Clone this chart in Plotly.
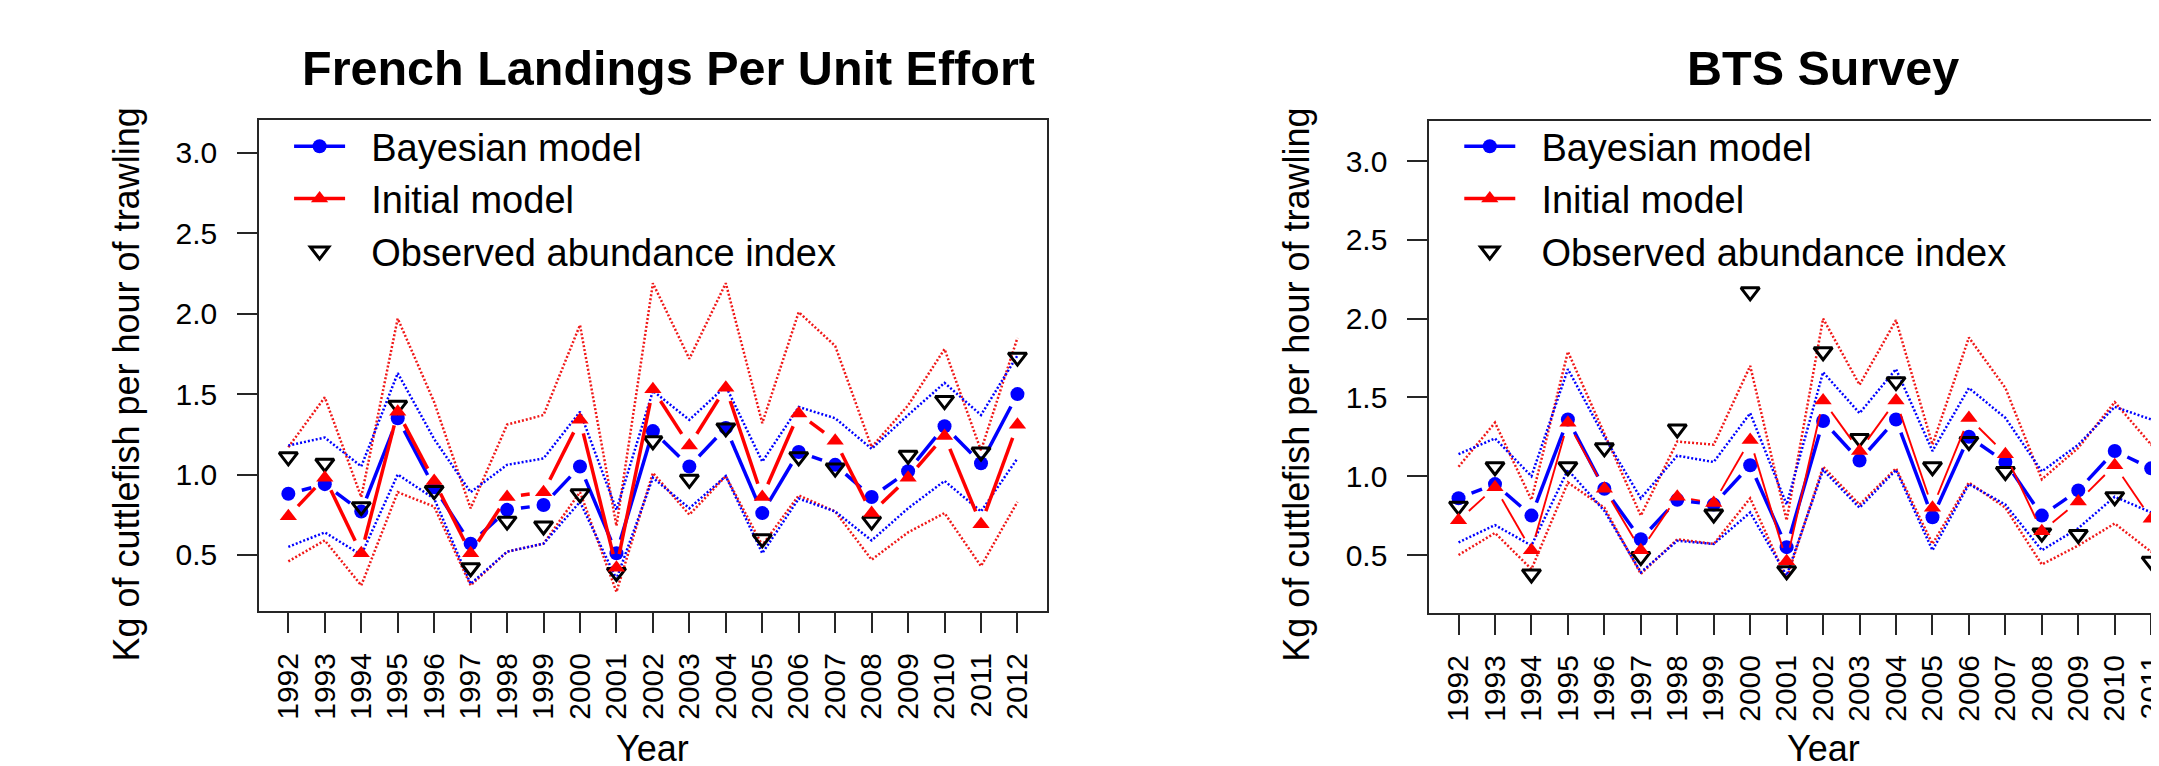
import plotly.graph_objects as go

# ---------------- data ----------------
years = list(range(1992, 2013))
year_labels = [str(y) for y in years]
y_tick_vals = [0.5, 1.0, 1.5, 2.0, 2.5, 3.0]
y_tick_text = ["0.5", "1.0", "1.5", "2.0", "2.5", "3.0"]

# French Landings Per Unit Effort
lpue_bayes = [0.88, 0.94, 0.77, 1.35, 0.92, 0.57, 0.78, 0.81, 1.05, 0.51, 1.27,
              1.05, 1.29, 0.76, 1.14, 1.06, 0.86, 1.02, 1.30, 1.07, 1.50]
lpue_init = [0.74, 0.98, 0.51, 1.39, 0.96, 0.51, 0.86, 0.89, 1.34, 0.42, 1.53,
             1.18, 1.54, 0.86, 1.38, 1.21, 0.76, 0.98, 1.24, 0.69, 1.31]
lpue_obs = [1.11, 1.07, 0.80, 1.43, 0.90, 0.42, 0.71, 0.68, 0.88, 0.39, 1.21,
            0.97, 1.29, 0.60, 1.11, 1.04, 0.71, 1.12, 1.46, 1.14, 1.73]
lpue_bayes_hi = [1.18, 1.23, 1.05, 1.63, 1.22, 0.89, 1.06, 1.10, 1.39, 0.78, 1.52,
                 1.34, 1.55, 1.08, 1.42, 1.35, 1.16, 1.37, 1.57, 1.37, 1.74]
lpue_bayes_lo = [0.55, 0.64, 0.50, 1.00, 0.85, 0.32, 0.52, 0.57, 0.83, 0.35, 0.98,
                 0.79, 0.99, 0.51, 0.85, 0.77, 0.59, 0.79, 0.96, 0.77, 1.10]
lpue_init_hi = [1.17, 1.48, 0.86, 1.97, 1.45, 0.79, 1.31, 1.37, 1.93, 0.68, 2.19,
                1.72, 2.19, 1.32, 2.01, 1.80, 1.17, 1.43, 1.78, 1.15, 1.85]
lpue_init_lo = [0.46, 0.59, 0.31, 0.89, 0.80, 0.31, 0.52, 0.57, 0.89, 0.27, 1.01,
                0.75, 0.99, 0.56, 0.87, 0.77, 0.47, 0.64, 0.76, 0.43, 0.83]

# BTS Survey
bts_bayes = [0.86, 0.95, 0.75, 1.36, 0.92, 0.60, 0.85, 0.82, 1.07, 0.55, 1.35,
             1.10, 1.36, 0.74, 1.25, 1.09, 0.75, 0.91, 1.16, 1.05, 1.45]
bts_init = [0.72, 0.93, 0.53, 1.34, 0.92, 0.53, 0.87, 0.83, 1.23, 0.46, 1.48,
            1.16, 1.48, 0.80, 1.37, 1.14, 0.65, 0.84, 1.07, 0.73, 1.20]
bts_obs = [0.81, 1.06, 0.38, 1.06, 1.18, 0.49, 1.30, 0.76, 2.17, 0.40, 1.79,
           1.24, 1.60, 1.06, 1.22, 1.03, 0.64, 0.63, 0.87, 0.46, 1.70]
bts_bayes_hi = [1.14, 1.24, 1.00, 1.68, 1.25, 0.86, 1.13, 1.09, 1.40, 0.82, 1.66,
                1.40, 1.68, 1.16, 1.56, 1.37, 1.03, 1.20, 1.44, 1.36, 1.75]
bts_bayes_lo = [0.58, 0.69, 0.56, 1.04, 0.78, 0.39, 0.59, 0.57, 0.77, 0.37, 1.04,
                0.80, 1.04, 0.53, 0.95, 0.82, 0.53, 0.67, 0.87, 0.77, 1.10]
bts_init_hi = [1.06, 1.34, 0.85, 1.79, 1.27, 0.75, 1.22, 1.20, 1.70, 0.72, 2.00,
               1.58, 1.99, 1.20, 1.88, 1.56, 0.98, 1.18, 1.47, 1.20, 1.80]
bts_init_lo = [0.50, 0.64, 0.41, 0.96, 0.80, 0.38, 0.60, 0.57, 0.86, 0.35, 1.06,
               0.82, 1.05, 0.57, 0.96, 0.80, 0.44, 0.56, 0.70, 0.52, 0.80]

panel_titles = ["French Landings Per Unit Effort", "BTS Survey"]
y_title = "Kg of cuttlefish per hour of trawling"
x_title = "Year"
legend_names = ["Bayesian model", "Initial model", "Observed abundance index"]

# ---------------- layout geometry ----------------
W, H = 2159, 766
FONT = "Liberation Sans, Arial, Helvetica, sans-serif"
BLUE, RED, BLACK = "#0000FF", "#FF0000", "#000000"
AXC = "#262626"
LEG_PAD = "\u00a0\u00a0"

panels = [
    dict(px0=252, px1=1042, py0=112, py1=603, xr=[1991.2, 2012.8], yr=[0.151, 3.205],
         red_w=3.5, xa="x", ya="y", legend="legend", mirror_y=True, title_cx=663),
    dict(px0=1426, px1=W, py0=113, py1=605,
         xr=[1991.2, 1991.2 + 21.6 * (W - 1426) / 790.0], yr=[0.132, 3.254],
         red_w=1.9, xa="x2", ya="y2", legend="legend2", mirror_y=False, title_cx=1821),
]


def gapped(xs, ys, p, gap=14.0):
    """R type='b' style: line segments that stop short of each point."""
    sx = (p["px1"] - p["px0"]) / (p["xr"][1] - p["xr"][0])
    sy = (p["py1"] - p["py0"]) / (p["yr"][1] - p["yr"][0])
    X, Y = [], []
    for i in range(len(xs) - 1):
        dx, dy = xs[i + 1] - xs[i], ys[i + 1] - ys[i]
        L = ((dx * sx) ** 2 + (dy * sy) ** 2) ** 0.5
        if L <= 2 * gap:
            continue
        f = gap / L
        X += [xs[i] + dx * f, xs[i + 1] - dx * f, None]
        Y += [ys[i] + dy * f, ys[i + 1] - dy * f, None]
    return X, Y


fig = go.Figure()

datasets = [
    (lpue_bayes, lpue_init, lpue_obs, lpue_bayes_hi, lpue_bayes_lo, lpue_init_hi, lpue_init_lo),
    (bts_bayes, bts_init, bts_obs, bts_bayes_hi, bts_bayes_lo, bts_init_hi, bts_init_lo),
]

CIRCLE = dict(symbol="circle", size=14, color=BLUE)
TRI_UP = dict(symbol="triangle-up", size=15, color=RED)
TRI_DN = dict(symbol="triangle-down-open", size=16, color=BLACK, line=dict(width=3, color=BLACK))

for p, (bay, ini, obs, bhi, blo, ihi, ilo) in zip(panels, datasets):
    ax = dict(xaxis=p["xa"], yaxis=p["ya"])
    dot = "2px,2px"
    for arr, col in [(ihi, "#F01818"), (ilo, "#F01818"), (bhi, BLUE), (blo, BLUE)]:
        fig.add_trace(go.Scatter(x=years, y=arr, mode="lines", showlegend=False,
                                 line=dict(color=col, width=2.5, dash=dot),
                                 hoverinfo="skip", **ax))
    # Bayesian model
    gx, gy = gapped(years, bay, p)
    fig.add_trace(go.Scatter(x=gx, y=gy, mode="lines", showlegend=False,
                             line=dict(color=BLUE, width=3.5), hoverinfo="skip", **ax))
    fig.add_trace(go.Scatter(x=years, y=bay, mode="markers", showlegend=False,
                             marker=CIRCLE, **ax))
    # Observed
    fig.add_trace(go.Scatter(x=years, y=obs, mode="markers", showlegend=False,
                             marker=TRI_DN, **ax))
    # Initial model
    gx, gy = gapped(years, ini, p)
    fig.add_trace(go.Scatter(x=gx, y=gy, mode="lines", showlegend=False,
                             line=dict(color=RED, width=p["red_w"]), hoverinfo="skip", **ax))
    fig.add_trace(go.Scatter(x=years, y=ini, mode="markers", showlegend=False,
                             marker=TRI_UP, **ax))
    # legend entries
    fig.add_trace(go.Scatter(x=[None], y=[None], mode="lines+markers",
                             name=LEG_PAD + legend_names[0],
                             line=dict(color=BLUE, width=3.5), marker=CIRCLE,
                             legend=p["legend"], **ax))
    fig.add_trace(go.Scatter(x=[None], y=[None], mode="lines+markers",
                             name=LEG_PAD + legend_names[1],
                             line=dict(color=RED, width=3.5), marker=TRI_UP,
                             legend=p["legend"], **ax))
    fig.add_trace(go.Scatter(x=[None], y=[None], mode="markers",
                             name=LEG_PAD + legend_names[2], marker=TRI_DN,
                             legend=p["legend"], **ax))

layout = dict(
    width=W, height=H,
    margin=dict(l=0, r=0, t=0, b=0),
    paper_bgcolor="white", plot_bgcolor="white",
    font=dict(family=FONT, color="black"),
    hovermode=False,
)

for i, p in enumerate(panels):
    sfx = "" if i == 0 else "2"
    layout["xaxis" + sfx] = dict(
        domain=[p["px0"] / W, p["px1"] / W], range=p["xr"], anchor="y" + sfx,
        tickmode="array", tickvals=years, ticktext=year_labels, tickangle=-90,
        ticks="outside", ticklen=20, tickwidth=2, tickcolor=AXC,
        tickfont=dict(size=30, family=FONT, color="black"), ticklabelstandoff=8,
        ticklabeloverflow="allow",
        showline=True, linecolor=AXC, linewidth=2, mirror=True,
        showgrid=False, zeroline=False, fixedrange=True,
    )
    layout["yaxis" + sfx] = dict(
        domain=[1 - p["py1"] / H, 1 - p["py0"] / H], range=p["yr"], anchor="x" + sfx,
        tickmode="array", tickvals=y_tick_vals, ticktext=y_tick_text,
        ticks="outside", ticklen=20, tickwidth=2, tickcolor=AXC,
        tickfont=dict(size=30, family=FONT, color="black"), ticklabelstandoff=14,
        showline=True, linecolor=AXC, linewidth=2, mirror=p["mirror_y"],
        showgrid=False, zeroline=False, fixedrange=True,
    )
    layout["legend" if i == 0 else "legend2"] = dict(
        x=(p["px0"] + 30) / W, xanchor="left", y=1 - 107 / H, yanchor="top",
        bgcolor="rgba(0,0,0,0)", borderwidth=0, font=dict(size=38, family=FONT, color="black"),
        itemwidth=51, traceorder="normal", tracegroupgap=0,
    )

annotations = []
for p, t in zip(panels, panel_titles):
    cx = (p["px0"] + p["px0"] + 790) / 2.0
    annotations.append(dict(text="<b>" + t + "</b>", x=p["title_cx"] / W, y=1 - 60 / H,
                            xref="paper", yref="paper",
                            xanchor="center", yanchor="middle", showarrow=False,
                            font=dict(size=48.5, family=FONT, color="black")))
    annotations.append(dict(text=x_title, x=cx / W, y=1 - 740 / H, xref="paper", yref="paper",
                            xanchor="center", yanchor="middle", showarrow=False,
                            font=dict(size=36, family=FONT, color="black")))
    annotations.append(dict(text=y_title, x=(p["px0"] - 134) / W, y=1 - 377 / H,
                            xref="paper", yref="paper", xanchor="center", yanchor="middle",
                            textangle=-90, showarrow=False,
                            font=dict(size=36, family=FONT, color="black")))
layout["annotations"] = annotations

fig.update_layout(**layout)
fig.write_html("out.html")
